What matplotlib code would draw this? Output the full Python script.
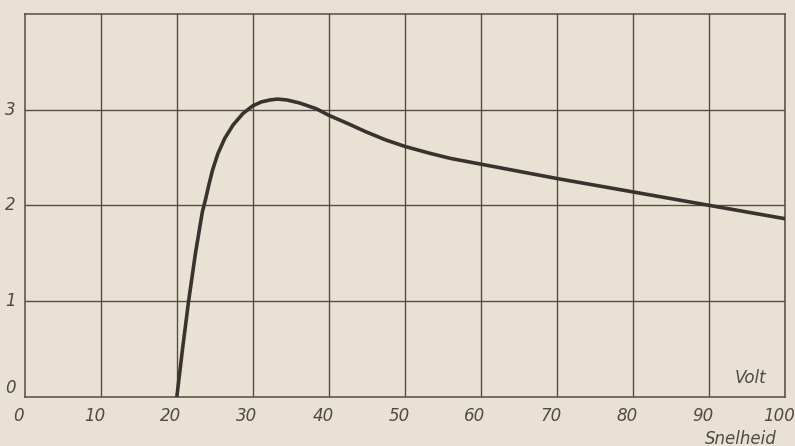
import matplotlib.pyplot as plt

# values
snelheid = [20, 20.75, 21.55, 22.45, 23.35, 23.8, 24.2, 24.7, 25.4, 26.3, 27.4,
            28.7, 30, 31.1, 32.2, 33.2, 34.5, 36.1, 38.3, 40, 42.6, 44.8,
            47.4, 50, 53.2, 56, 60, 65, 70, 75, 80, 85, 90, 95, 100]
waarde = [0, 0.5, 1.0, 1.5, 1.93, 2.07, 2.21, 2.37, 2.54, 2.70, 2.84,
          2.96, 3.04, 3.08, 3.10, 3.11, 3.10, 3.07, 3.01, 2.94, 2.85, 2.77,
          2.685, 2.615, 2.545, 2.49, 2.43, 2.355, 2.28, 2.21, 2.14, 2.07, 2.0,
          1.93, 1.86]
x_ticks = [0, 10, 20, 30, 40, 50, 60, 70, 80, 90, 100]
y_ticks = [1, 2, 3]

bg = '#e9e1d3'
ink = '#38332f'
grid_c = '#524d48'
txt = '#4e4a47'

fig = plt.figure(figsize=(7.95, 4.46), dpi=100, facecolor=bg)
ax = fig.add_axes([0.031, 0.110, 0.957, 0.859], facecolor=bg)

ax.set_xlim(0, 100)
ax.set_ylim(0, 4)

# grid
for xv in x_ticks[1:]:
    ax.axvline(xv, color=grid_c, lw=1.0, zorder=1)
for yv in y_ticks:
    ax.axhline(yv, color=grid_c, lw=1.0, zorder=1)

ax.plot(snelheid, waarde, color=ink, lw=2.6, solid_capstyle='round',
        solid_joinstyle='round', zorder=3)

for s in ax.spines.values():
    s.set_color(grid_c)
    s.set_linewidth(1.1)

ax.set_xticks([])
ax.set_yticks([])

fs = 12
for xv in x_ticks:
    ax.text(xv - 0.8, -0.1, str(xv), ha='center', va='top', fontsize=fs,
            style='italic', color=txt, clip_on=False)
for yv in [0] + y_ticks:
    ax.text(-1.2, yv, str(yv), ha='right', va='center' if yv else 'bottom',
            fontsize=fs, style='italic', color=txt, clip_on=False)

ax.text(97.5, 0.1, 'Volt', ha='right', va='bottom', fontsize=fs,
        style='italic', color=txt)
ax.text(98.8, -0.34, 'Snelheid', ha='right', va='top', fontsize=fs,
        style='italic', color=txt, clip_on=False)

fig.savefig('out.png', dpi=100, facecolor=bg)
